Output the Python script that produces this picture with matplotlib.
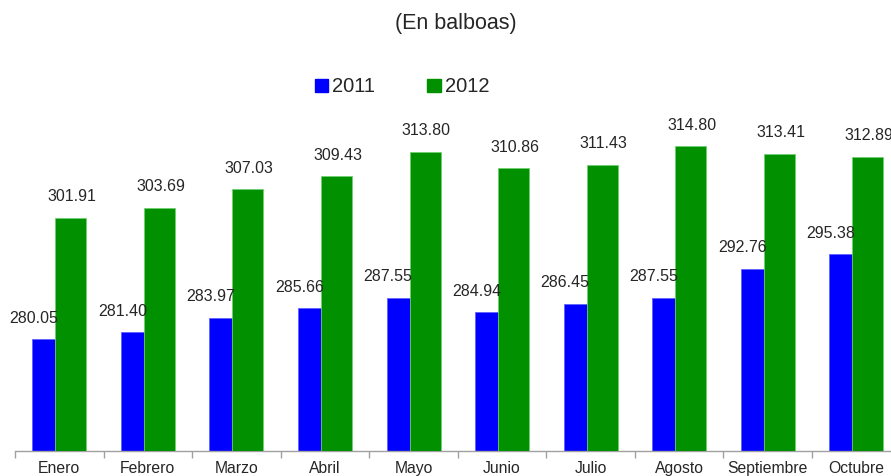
import numpy as np
import matplotlib.pyplot as plt
from matplotlib.patches import Patch

plt.rcParams['font.family'] = ['Liberation Sans', 'DejaVu Sans']

months = ['Enero', 'Febrero', 'Marzo', 'Abril', 'Mayo', 'Junio',
          'Julio', 'Agosto', 'Septiembre', 'Octubre']
values_2011 = [280.05, 281.40, 283.97, 285.66, 287.55, 284.94,
               286.45, 287.55, 292.76, 295.38]
values_2012 = [301.91, 303.69, 307.03, 309.43, 313.80, 310.86,
               311.43, 314.80, 313.41, 312.89]

blue = '#0000ff'
green = '#009000'
text_color = '#262626'

fig = plt.figure(figsize=(8.91, 4.76), dpi=100)
ax = fig.add_axes([15 / 891, 25 / 476, 885.6 / 891, 334 / 476])

x = np.arange(len(months))
width = 0.35
offset = 0.13

# 2012 bars drawn on top of 2011 (overlapping like the original)
ax.bar(x - offset, values_2011, width, color=blue,
       edgecolor='#6060ff', linewidth=0.6, zorder=2)
ax.bar(x + offset, values_2012, width, color=green,
       edgecolor='#70d070', linewidth=0.6, zorder=3)

for i in range(len(months)):
    ax.annotate(f'{values_2011[i]:.2f}', (x[i] - offset, values_2011[i]),
                xytext=(-10, 15), textcoords='offset points',
                ha='center', va='center', fontsize=11.5, color=text_color, zorder=4)
    ax.annotate(f'{values_2012[i]:.2f}', (x[i] + offset, values_2012[i]),
                xytext=(1, 15), textcoords='offset points',
                ha='center', va='center', fontsize=11.5, color=text_color, zorder=4)

ax.set_ylim(260, 320)
ax.set_xlim(-0.5, len(months) - 0.5)

# tick marks at category boundaries, labels at centers
ax.set_xticks(np.arange(len(months) + 1) - 0.5)
ax.set_xticklabels([])
ax.set_xticks(x, minor=True)
ax.set_xticklabels(months, minor=True, fontsize=11.3, color=text_color)
ax.tick_params(axis='x', which='major', length=5, color='#a0a0a0', width=1)
ax.tick_params(axis='x', which='minor', length=0, pad=7)
ax.set_yticks([])

for s in ['left', 'right', 'top']:
    ax.spines[s].set_visible(False)
ax.spines['bottom'].set_color('#a0a0a0')
ax.spines['bottom'].set_linewidth(1)

fig.text(456 / 891, 1 - 23 / 476, '(En balboas)', ha='center', va='center',
         fontsize=15.5, color=text_color)

handles = [Patch(facecolor=blue, edgecolor=blue), Patch(facecolor=green, edgecolor=green)]
fig.legend(handles, ['2011', '2012'], loc='center', bbox_to_anchor=(402 / 891, 1 - 87 / 476),
           ncol=2, frameon=False, fontsize=14.5, handlelength=0.65, handleheight=0.65,
           handletextpad=0.2, columnspacing=2.6, labelcolor=text_color)

fig.savefig('out.png', dpi=100)
